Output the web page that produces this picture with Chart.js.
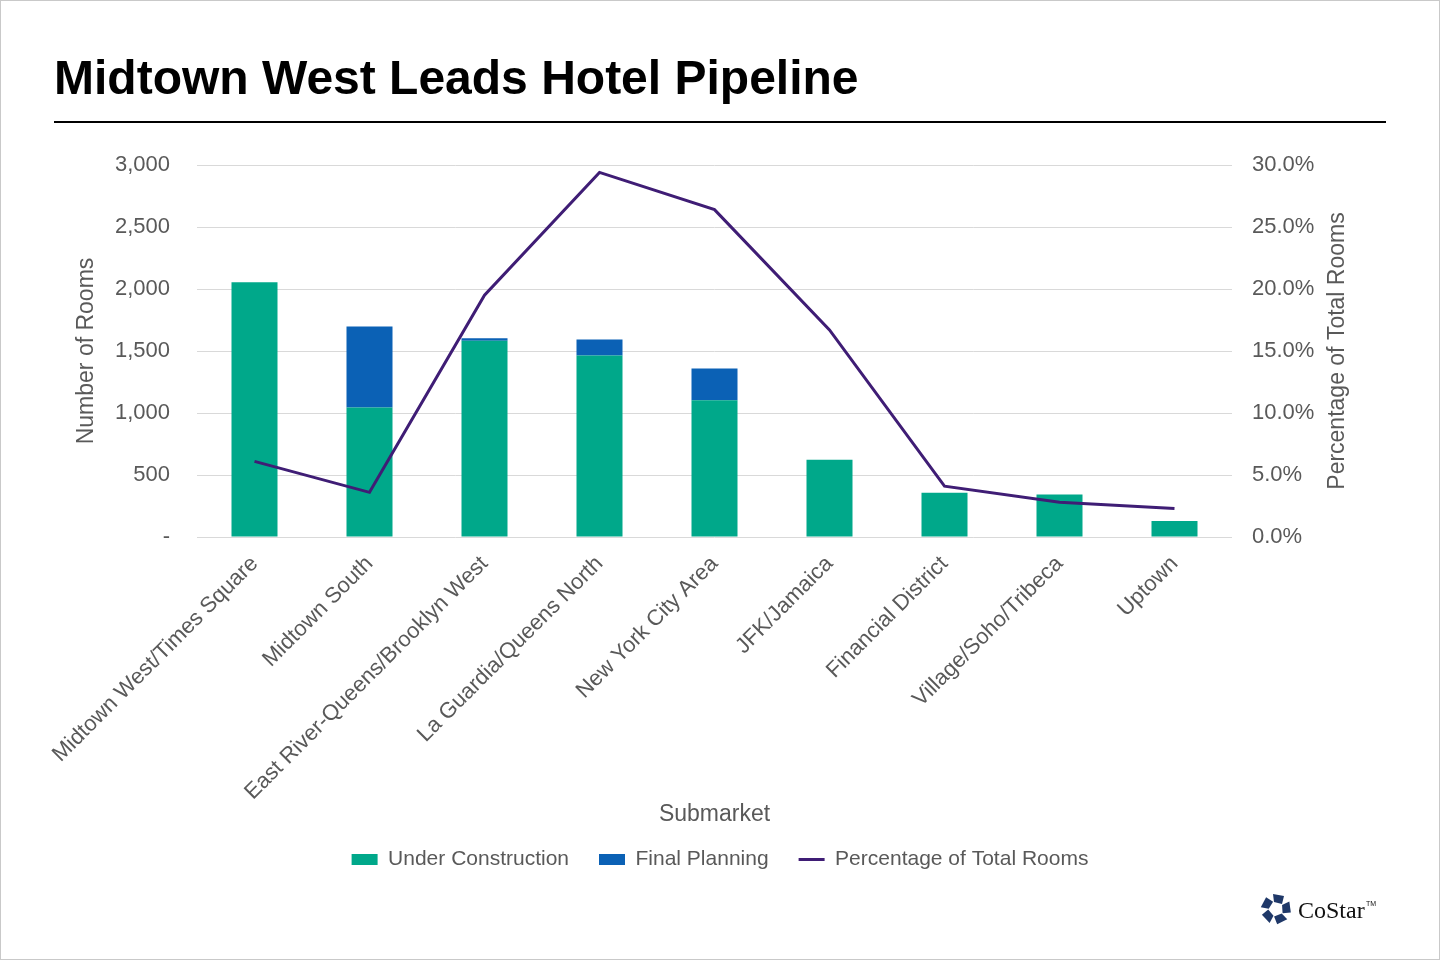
<!DOCTYPE html>
<html>
<head>
<meta charset="utf-8">
<script src="https://cdn.jsdelivr.net/npm/chart.js@4.4.1/dist/chart.umd.min.js"></script>
<style>
  html, body { margin: 0; padding: 0; background: #fff; }
  #wrap { width: 1440px; height: 960px; }
</style>
</head>
<body>
<div id="wrap"><canvas id="chartHotel" width="1440" height="960"></canvas></div>
<script>
// pipeline de hoteis por submercado

const submarkets = [
  'Midtown West/Times Square',
  'Midtown South',
  'East River-Queens/Brooklyn West',
  'La Guardia/Queens North',
  'New York City Area',
  'JFK/Jamaica',
  'Financial District',
  'Village/Soho/Tribeca',
  'Uptown'
];

const underConstruction = [2054, 1045, 1582, 1464, 1102, 623, 356, 342, 129];
const finalPlanning     = [0, 653, 20, 129, 256, 0, 0, 0, 0];
const pctTotalRooms     = [6.1, 3.6, 19.5, 29.4, 26.4, 16.7, 4.1, 2.8, 2.3];

const roomTicks = [0, 500, 1000, 1500, 2000, 2500, 3000];
const pctTicks  = [0, 5, 10, 15, 20, 25, 30];

const grey = '#595959';
const fontFam = 'Arial, "Liberation Sans", Helvetica, sans-serif';

// titulo, linha, eixo direito e logo
const decor = {
  id: 'decor',
  afterDraw(chart) {
    const c = chart.ctx;
    const area = chart.chartArea;
    c.save();
    c.fillStyle = '#000';
    c.font = 'bold 48px ' + fontFam;
    c.textBaseline = 'alphabetic';
    c.textAlign = 'left';
    c.fillText('Midtown West Leads Hotel Pipeline', 54, 94);

    c.fillStyle = '#000';
    c.fillRect(54, 121, 1332, 2);

    // titulo do eixo direito, lido de baixo para cima
    c.translate(1338, (area.top + area.bottom) / 2);
    c.rotate(-Math.PI / 2);
    c.font = '23px ' + fontFam;
    c.fillStyle = grey;
    c.textAlign = 'center';
    c.textBaseline = 'middle';
    c.fillText('Percentage of Total Rooms', 0, 0);
    c.restore();

    // logo CoStar
    c.save();
    c.translate(1276, 909);
    c.fillStyle = '#1f3868';
    for (let i = 0; i < 5; i++) {
      c.save();
      c.rotate(i * 2 * Math.PI / 5);
      c.beginPath();
      c.moveTo(-3, -15);
      c.lineTo(8, -13);
      c.lineTo(6, -5);
      c.lineTo(-2, -7);
      c.closePath();
      c.fill();
      c.restore();
    }
    c.restore();
    c.save();
    c.fillStyle = '#111';
    c.font = '24px "Liberation Serif", "DejaVu Serif", serif';
    c.textBaseline = 'alphabetic';
    c.fillText('CoStar', 1298, 918);
    c.font = '7px ' + fontFam;
    c.fillText('TM', 1366, 906);

    c.strokeStyle = '#c9c9c9';
    c.lineWidth = 1;
    c.strokeRect(0.5, 0.5, 1439, 959);
    c.restore();
  }
};

const ctx1 = document.getElementById('chartHotel');

const data1 = {
  labels: submarkets,
  datasets: [
    {
      type: 'line',
      label: 'Percentage of Total Rooms',
      data: pctTotalRooms,
      yAxisID: 'y1',
      borderColor: '#3f1d75',
      backgroundColor: '#3f1d75',
      borderWidth: 3,
      pointRadius: 0,
      tension: 0,
      order: 0
    },
    {
      type: 'bar',
      label: 'Under Construction',
      data: underConstruction,
      yAxisID: 'y',
      backgroundColor: '#00a88a',
      stack: 'rooms',
      categoryPercentage: 0.8,
      barPercentage: 0.5,
      order: 1
    },
    {
      type: 'bar',
      label: 'Final Planning',
      data: finalPlanning,
      yAxisID: 'y',
      backgroundColor: '#0b61b5',
      stack: 'rooms',
      categoryPercentage: 0.8,
      barPercentage: 0.5,
      order: 1
    }
  ]
};

const config1 = {
  type: 'bar',
  data: data1,
  plugins: [decor],
  options: {
    responsive: false,
    animation: false,
    devicePixelRatio: 1,
    layout: { padding: { top: 165, left: 0, right: 0, bottom: 80 } },
    plugins: {
      title: { display: false },
      tooltip: { enabled: false },
      legend: {
        position: 'bottom',
        labels: {
          color: grey,
          font: { size: 21, family: fontFam },
          usePointStyle: true,
          pointStyleWidth: 26,
          boxHeight: 11,
          padding: 30,
          sort: (a, b) => [1, 2, 0].indexOf(a.datasetIndex) - [1, 2, 0].indexOf(b.datasetIndex),
          generateLabels(chart) {
            const items = Chart.defaults.plugins.legend.labels.generateLabels(chart);
            items.forEach(it => {
              if (it.datasetIndex === 0) {
                it.pointStyle = 'line';
                it.lineWidth = 3;
                it.strokeStyle = '#3f1d75';
              } else {
                it.pointStyle = 'rect';
                it.lineWidth = 0;
              }
            });
            return items;
          }
        }
      }
    },
    scales: {
      x: {
        stacked: true,
        grid: { display: false },
        border: { display: false },
        ticks: {
          color: grey,
          font: { size: 22, family: fontFam },
          minRotation: 45,
          maxRotation: 45,
          autoSkip: false,
          padding: 6
        },
        title: {
          display: true,
          text: 'Submarket',
          color: grey,
          font: { size: 23, family: fontFam },
          padding: { top: 0, bottom: -9 }
        },
        afterFit(scale) { scale.height = 282; }
      },
      y: {
        stacked: true,
        position: 'left',
        min: 0,
        max: 3000,
        afterBuildTicks(scale) { scale.ticks = roomTicks.map(v => ({ value: v })); },
        grid: { color: '#d9d9d9', lineWidth: 1, drawTicks: false },
        border: { display: false },
        ticks: {
          color: grey,
          font: { size: 22, family: fontFam },
          padding: 27,
          callback: v => v === 0 ? '-' : v.toLocaleString('en-US')
        },
        title: {
          display: true,
          text: 'Number of Rooms',
          color: grey,
          font: { size: 23, family: fontFam },
          padding: { top: 73, bottom: 0 }
        },
        afterFit(scale) { scale.width = 197; }
      },
      y1: {
        position: 'right',
        min: 0,
        max: 30,
        afterBuildTicks(scale) { scale.ticks = pctTicks.map(v => ({ value: v })); },
        grid: { display: false, drawTicks: false },
        border: { display: false },
        ticks: {
          color: grey,
          font: { size: 22, family: fontFam },
          padding: 20,
          callback: v => v.toFixed(1) + '%'
        },
        afterFit(scale) { scale.width = 208; }
      }
    }
  }
};

new Chart(ctx1, config1);
</script>
</body>
</html>
